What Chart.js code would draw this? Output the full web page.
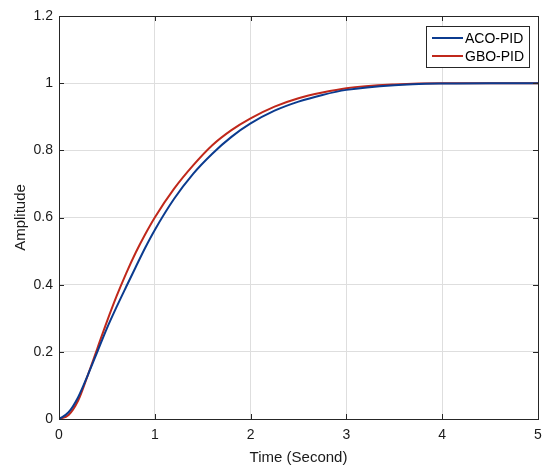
<!DOCTYPE html>
<html>
<head>
<meta charset="utf-8">
<script src="https://cdn.jsdelivr.net/npm/chart.js@4.4.1/dist/chart.umd.min.js"></script>
<style>
  html, body { margin: 0; padding: 0; background: #fff; }
  #wrap { width: 544px; height: 471px; }
</style>
</head>
<body>
<div id="wrap"><canvas id="graphStep"></canvas></div>
<script>
// tiempos y respuestas
const timeACO = [0, 0.1, 0.2, 0.3, 0.4, 0.5, 0.6, 0.7, 0.8, 0.9, 1.0, 1.2, 1.4, 1.6, 1.8, 2.0, 2.25, 2.5, 2.75, 3.0, 3.5, 4.0, 4.5, 5.0];
const ampACO  = [0, 0.02, 0.065, 0.13, 0.2, 0.27, 0.333, 0.393, 0.452, 0.51, 0.563, 0.655, 0.73, 0.79, 0.84, 0.88, 0.918, 0.945, 0.965, 0.98, 0.994, 0.999, 1.0, 1.0];

const timeGBO = [0, 0.1, 0.2, 0.3, 0.4, 0.5, 0.6, 0.7, 0.8, 0.9, 1.0, 1.2, 1.4, 1.6, 1.8, 2.0, 2.25, 2.5, 2.75, 3.0, 3.5, 4.0, 4.5, 5.0];
const ampGBO  = [0, 0.012, 0.055, 0.13, 0.21, 0.29, 0.365, 0.433, 0.495, 0.55, 0.6, 0.685, 0.755, 0.815, 0.86, 0.895, 0.93, 0.955, 0.972, 0.985, 0.996, 1.0, 1.0, 1.0];

const labelsSeries = ['ACO-PID', 'GBO-PID'];
const xTicks = [0, 1, 2, 3, 4, 5];
const yTicks = [0, 0.2, 0.4, 0.6, 0.8, 1, 1.2];

const colorACO = '#0b3b8f';
const colorGBO = '#c0281b';
const fontFam = '"Liberation Sans", Arial, sans-serif';

function toPoints(xs, ys) {
    return xs.map((x, i) => ({x: x, y: ys[i]}));
}

// caja, marcas hacia adentro y leyenda
const boxPlugin = {
    id: 'boxPlugin',
    afterDraw(chart) {
        const ctx = chart.ctx;
        const a = chart.chartArea;
        const sx = chart.scales.x, sy = chart.scales.y;
        ctx.save();
        ctx.strokeStyle = '#262626';
        ctx.lineWidth = 1;
        ctx.beginPath();
        xTicks.forEach(t => {
            const px = Math.round(sx.getPixelForValue(t)) + 0.5;
            ctx.moveTo(px, a.bottom); ctx.lineTo(px, a.bottom - 5);
            ctx.moveTo(px, a.top); ctx.lineTo(px, a.top + 5);
        });
        yTicks.forEach(t => {
            const py = Math.round(sy.getPixelForValue(t)) + 0.5;
            ctx.moveTo(a.left, py); ctx.lineTo(a.left + 5, py);
            ctx.moveTo(a.right, py); ctx.lineTo(a.right - 5, py);
        });
        ctx.stroke();
        ctx.strokeRect(Math.round(a.left) + 0.5, Math.round(a.top) + 0.5, Math.round(a.right - a.left), Math.round(a.bottom - a.top));

        // leyenda
        const lx = 426, ly = 26, lw = 103, lh = 41;
        ctx.fillStyle = '#fff';
        ctx.fillRect(lx, ly, lw, lh);
        ctx.strokeStyle = '#262626';
        ctx.strokeRect(lx + 0.5, ly + 0.5, lw, lh);
        ctx.font = '14px ' + fontFam;
        ctx.textBaseline = 'middle';
        chart.data.datasets.forEach((ds, i) => {
            const yy = ly + 12 + i * 18;
            ctx.strokeStyle = ds.borderColor;
            ctx.lineWidth = 2;
            ctx.beginPath();
            ctx.moveTo(lx + 6, yy); ctx.lineTo(lx + 37, yy);
            ctx.stroke();
            ctx.fillStyle = '#000';
            ctx.fillText(ds.label, lx + 39, yy + 1);
        });
        ctx.restore();
    }
};

const dataStep = {
    datasets: [{
        label: labelsSeries[0],
        data: toPoints(timeACO, ampACO),
        borderColor: colorACO,
        borderWidth: 2,
        pointRadius: 0,
        cubicInterpolationMode: 'monotone',
        fill: false
    }, {
        label: labelsSeries[1],
        data: toPoints(timeGBO, ampGBO),
        borderColor: colorGBO,
        borderWidth: 2,
        pointRadius: 0,
        cubicInterpolationMode: 'monotone',
        fill: false
    }]
};

const configStep = {
    type: 'line',
    data: dataStep,
    plugins: [boxPlugin],
    options: {
        responsive: true,
        maintainAspectRatio: false,
        animation: false,
        layout: { padding: { top: 16, right: 6, left: 0, bottom: 0 } },
        plugins: { legend: { display: false }, tooltip: { enabled: false } },
        scales: {
            x: {
                type: 'linear',
                min: 0, max: 5,
                afterFit: s => { s.height = 52; s.paddingRight = 0; s.paddingLeft = 0; },
                afterBuildTicks: s => { s.ticks = xTicks.map(v => ({value: v})); },
                grid: { color: '#dedede', drawTicks: false },
                border: { display: false },
                ticks: { color: '#1a1a1a', padding: 8, font: { family: fontFam, size: 14 } },
                title: { display: true, text: 'Time (Second)', color: '#1a1a1a', padding: { top: 2 }, font: { family: fontFam, size: 15 } }
            },
            y: {
                min: 0, max: 1.2,
                afterFit: s => { s.width = 59; s.paddingTop = 0; s.paddingBottom = 0; },
                afterBuildTicks: s => { s.ticks = yTicks.map(v => ({value: v})); },
                grid: { color: '#dedede', drawTicks: false },
                border: { display: false },
                ticks: {
                    color: '#1a1a1a', padding: 6,
                    font: { family: fontFam, size: 14 },
                    callback: v => String(Number(v.toFixed(1)))
                },
                title: { display: true, text: 'Amplitude', color: '#1a1a1a', padding: { top: 12, bottom: 2 }, font: { family: fontFam, size: 15 } }
            }
        }
    }
};

new Chart(document.querySelector('#graphStep'), configStep);
</script>
</body>
</html>
